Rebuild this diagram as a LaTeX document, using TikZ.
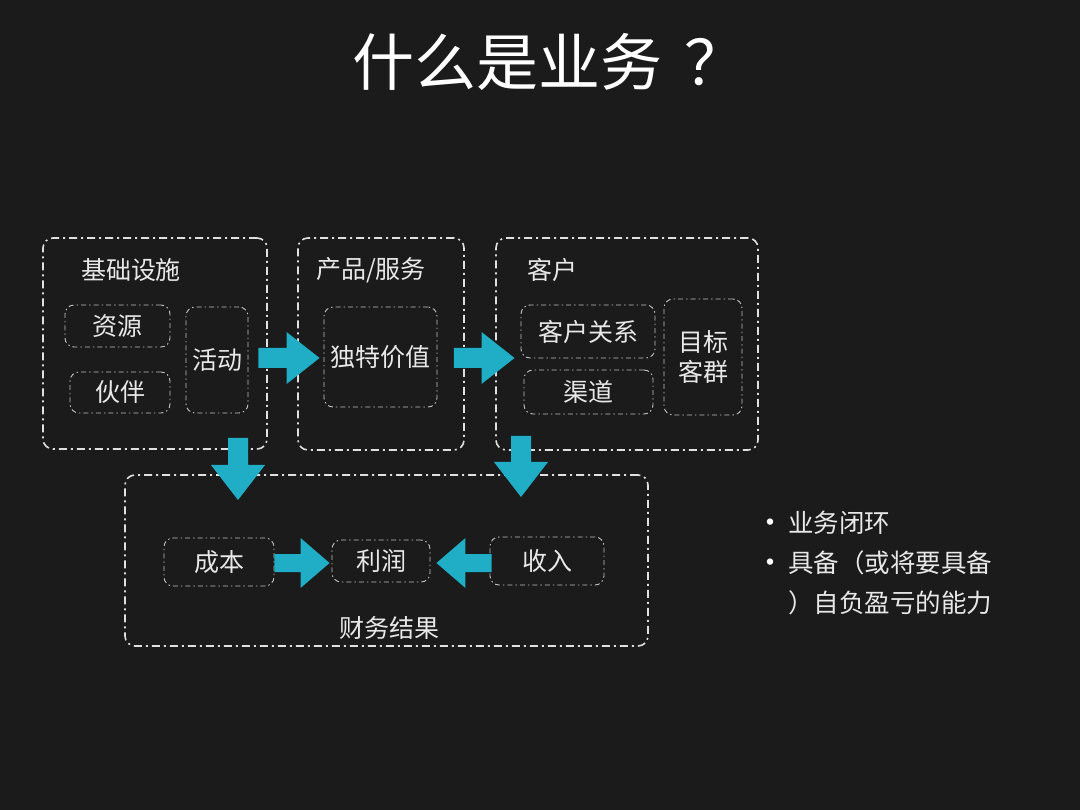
\documentclass[tikz,border=0pt]{standalone}
\usepackage{fontspec}
\setmainfont{Noto Sans CJK SC}
\usetikzlibrary{calc}
\definecolor{bg}{RGB}{27,27,27}
\definecolor{arrowc}{RGB}{32,174,198}
\definecolor{lbl}{RGB}{232,232,232}
\tikzset{
 outerbox/.style={draw=white!88!black, line width=1.6pt, rounded corners=10pt, dash pattern=on 8pt off 4pt on 2pt off 4pt, inner sep=0pt},
 innerbox/.style={draw=white!76!black, line width=0.9pt, rounded corners=9pt, dash pattern=on 5pt off 3pt on 1.5pt off 3pt, text=lbl, font=\fontsize{25}{30}\selectfont, inner sep=0pt, align=center},
 lab/.style={text=lbl, font=\fontsize{25}{30}\selectfont, inner sep=0pt},
 bul/.style={text=white, font=\fontsize{30}{30}\selectfont, inner sep=0pt},
}
\newcommand\blockarrow[5]{%
 \coordinate (tmpH) at ($(#2)!#5!(#1)$);
 \fill[arrowc] ($(#1)!#3!90:(#2)$) -- ($(tmpH)!#3!90:(#2)$) -- ($(tmpH)!#4!90:(#2)$) -- (#2) -- ($(tmpH)!#4!-90:(#2)$) -- ($(tmpH)!#3!-90:(#2)$) -- ($(#1)!#3!-90:(#2)$) -- cycle;
}
\begin{document}
\begin{tikzpicture}[x=1pt,y=-1pt]
\fill[bg] (0,0) rectangle (1080,810);
\useasboundingbox (0,0) rectangle (1080,810);

% title
\node[text=white, font=\fontsize{62}{70}\selectfont, inner sep=0pt, anchor=west] (title) at (352,62) {什么是业务\hspace{22pt}？};

% outer boxes
\node[outerbox, minimum width=224pt, minimum height=211pt] (infra) at (155,343.5) {};
\node[outerbox, minimum width=166pt, minimum height=212pt] (prod) at (381,344) {};
\node[outerbox, minimum width=262pt, minimum height=212pt] (cust) at (627,344) {};
\node[outerbox, minimum width=523pt, minimum height=171pt] (fin) at (386.5,560.5) {};

% outer labels
\node[lab] (infraL) at (131,270) {基础设施};
\node[lab] (prodL) at (371,270) {产品/服务};
\node[lab] (custL) at (552,270) {客户};
\node[lab] (finL) at (389,628) {财务结果};

% inner boxes
\node[innerbox, minimum width=105pt, minimum height=42pt] (res) at (117.5,326) {资源};
\node[innerbox, minimum width=100pt, minimum height=41pt] (partner) at (120,392.5) {伙伴};
\node[innerbox, minimum width=62pt, minimum height=106pt] (act) at (217,360) {活动};
\node[innerbox, minimum width=113pt, minimum height=100pt] (val) at (380.5,357) {独特价值};
\node[innerbox, minimum width=134pt, minimum height=53pt] (rel) at (588,331.5) {客户关系};
\node[innerbox, minimum width=129pt, minimum height=44pt] (chan) at (588.5,392) {渠道};
\node[innerbox, minimum width=78pt, minimum height=116pt] (tgt) at (703,357) {目标\\客群};
\node[innerbox, minimum width=110pt, minimum height=48pt] (cost) at (219,562) {成本};
\node[innerbox, minimum width=98pt, minimum height=42pt] (profit) at (381,561) {利润};
\node[innerbox, minimum width=114pt, minimum height=48pt] (rev) at (547,561) {收入};

% arrow end points
\coordinate (a1s) at ($(act.east)+(10,-2)$);
\coordinate (a1e) at ($(val.west)+(-4,1)$);
\coordinate (a2s) at ($(prod.east)+(-11,14)$);
\coordinate (a2e) at ($(rel.west)+(-6,26.5)$);
\coordinate (d1s) at (238,438);
\coordinate (d1e) at (238,500);
\coordinate (d2s) at (521,436);
\coordinate (d2e) at (521,497);
\coordinate (h3s) at ($(cost.east)+(0,1)$);
\coordinate (h3e) at ($(profit.west)+(-2,2)$);
\coordinate (h4s) at ($(rev.west)+(2,2)$);
\coordinate (h4e) at ($(profit.east)+(6,2)$);

\blockarrow{a1s}{a1e}{10pt}{26pt}{33pt}
\blockarrow{a2s}{a2e}{10pt}{26pt}{33pt}
\blockarrow{d1s}{d1e}{10pt}{27pt}{35pt}
\blockarrow{d2s}{d2e}{10pt}{27pt}{35pt}
\blockarrow{h3s}{h3e}{9pt}{25pt}{29pt}
\blockarrow{h4s}{h4e}{9pt}{25pt}{29pt}

% bullets
\node[bul] (b1) at (770,526) {•};
\node[bul] (b2) at (770,566) {•};
\node[lab, font=\fontsize{25.5}{30}\selectfont, anchor=west] (t1) at (788,523) {业务闭环};
\node[lab, font=\fontsize{25.5}{30}\selectfont, anchor=west] (t2) at (788,563) {具备（或将要具备};
\node[lab, font=\fontsize{25.5}{30}\selectfont, anchor=west] (t3) at (788,603) {）自负盈亏的能力};
\end{tikzpicture}
\end{document}
